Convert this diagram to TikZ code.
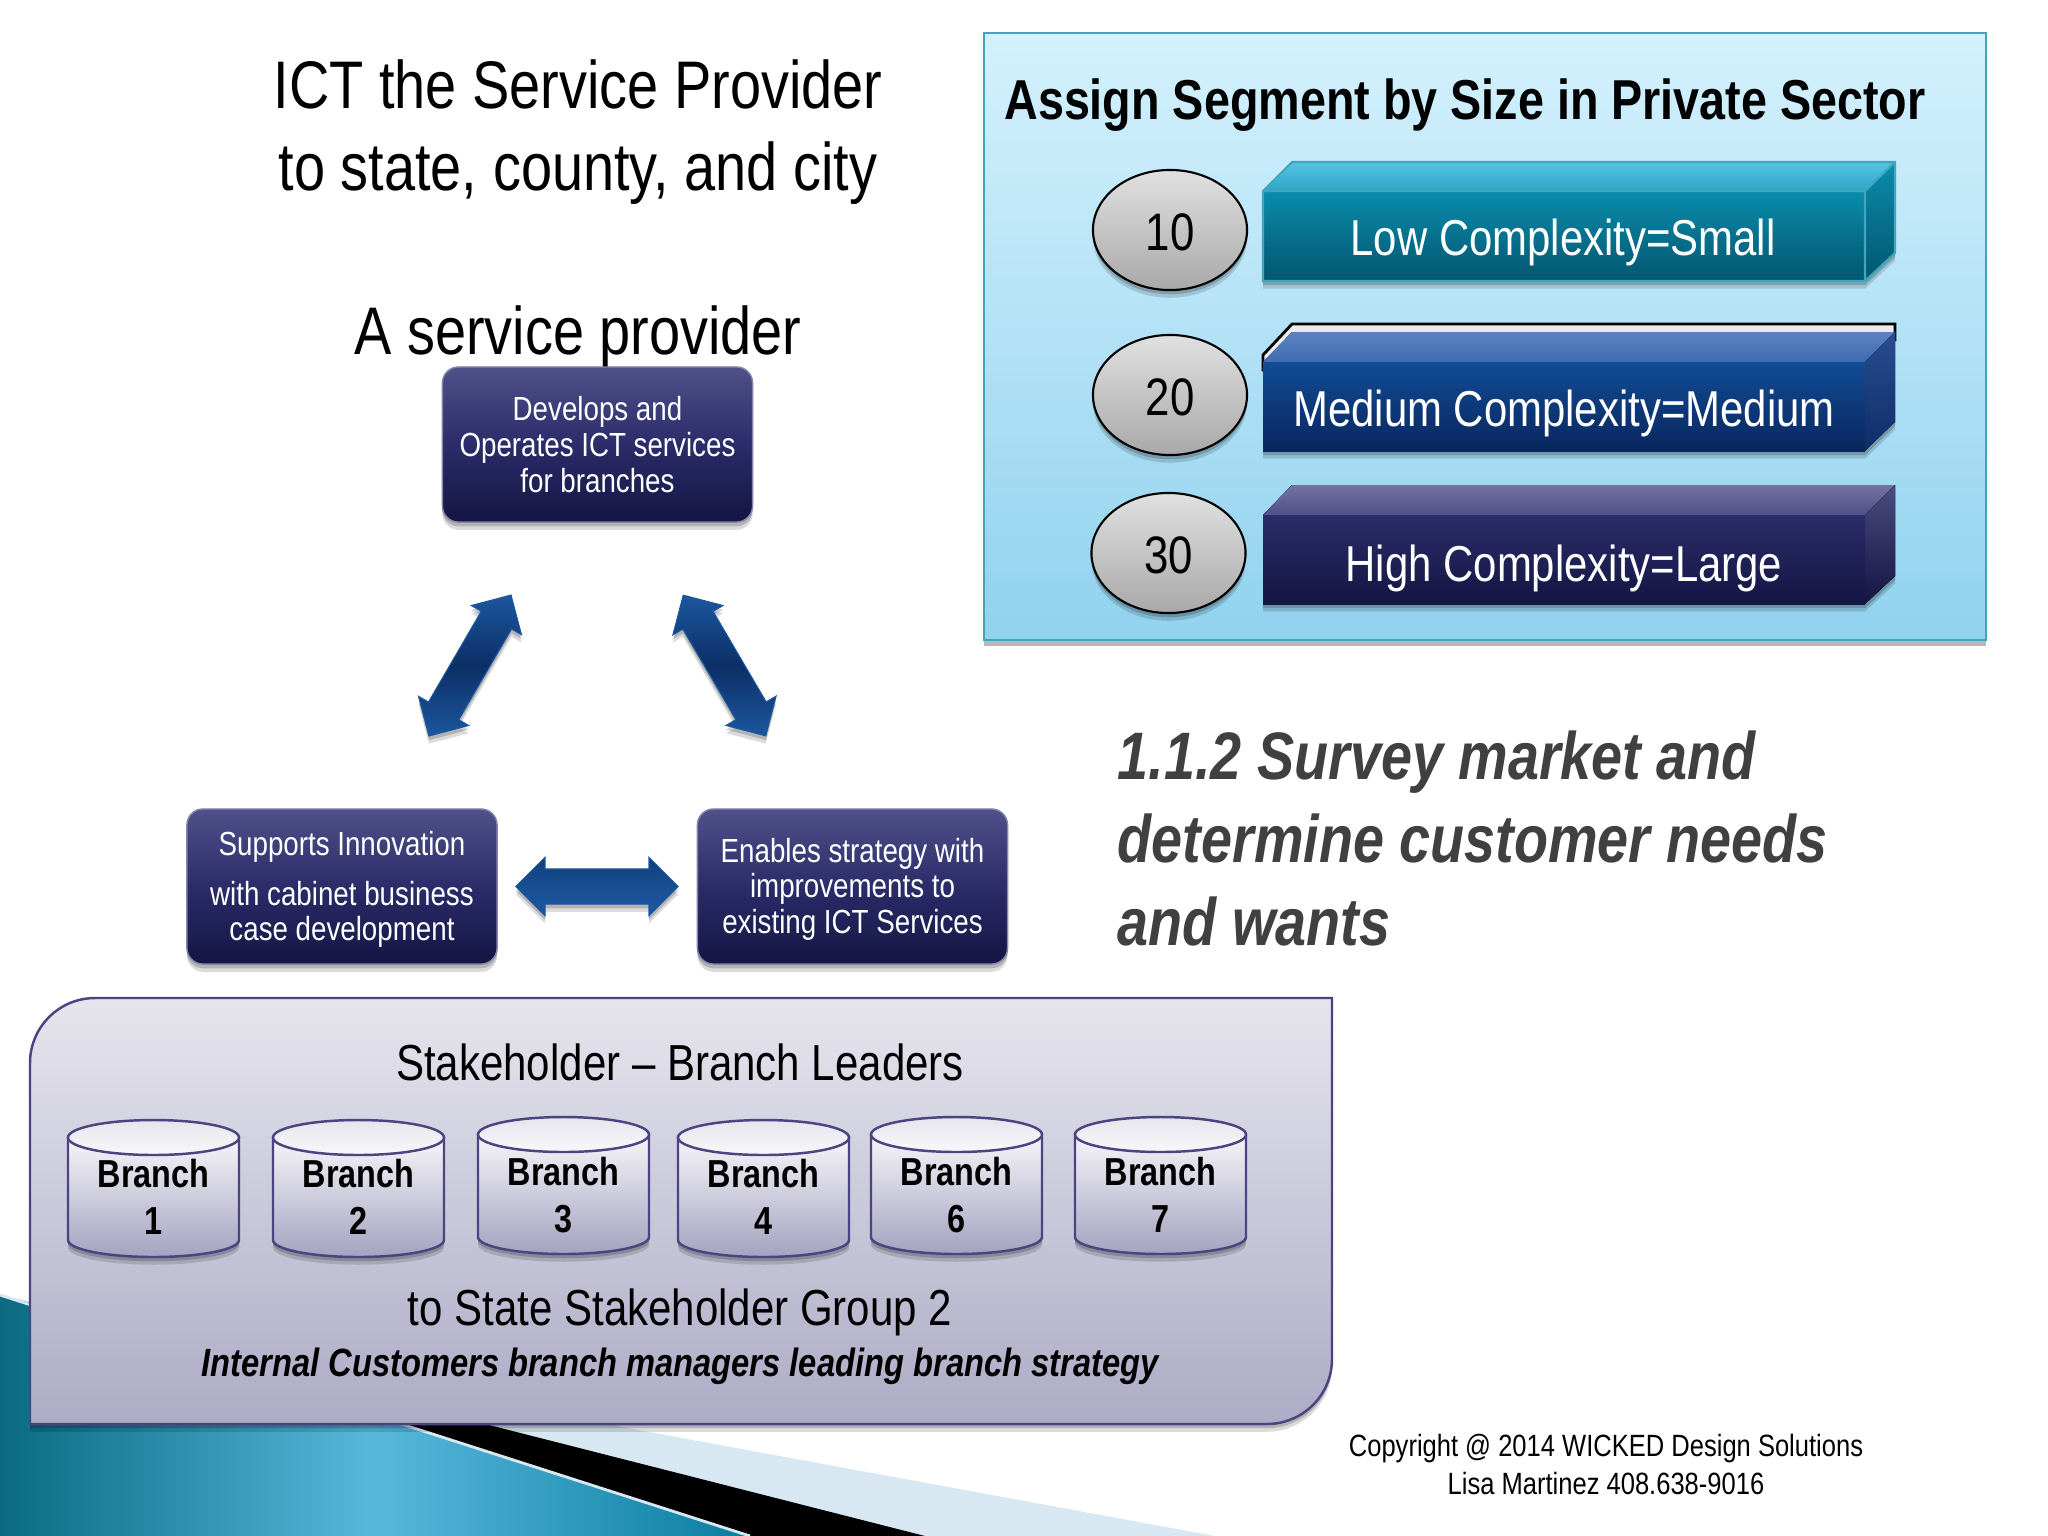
\documentclass[tikz,border=0pt]{standalone}
\usepackage{fontspec}
\setmainfont[FakeStretch=0.83]{Liberation Sans}
\usepackage{tikz}
\usetikzlibrary{shapes.geometric,shapes.arrows,shadows}
\definecolor{navytop}{HTML}{50508A}
\definecolor{navymid}{HTML}{2B2C69}
\definecolor{navybot}{HTML}{141543}
\definecolor{skytop}{HTML}{D4F1FD}
\definecolor{skybot}{HTML}{91D2EE}
\definecolor{skyline}{HTML}{3FA6BE}
\definecolor{lilac}{HTML}{4A4580}
\definecolor{paleband}{HTML}{D8E8F2}
\definecolor{arrowdark}{HTML}{0C2F66}
\definecolor{arrowlight}{HTML}{1C579F}
\definecolor{tealleft}{HTML}{0B6A82}
\definecolor{tealmid}{HTML}{58B8DC}
\definecolor{tealright}{HTML}{0A7EA0}
\definecolor{lowlid}{HTML}{54C3E1}
\definecolor{lowlidb}{HTML}{2FA5C7}
\definecolor{lowtop}{HTML}{0A8CAC}
\definecolor{lowbot}{HTML}{03566F}
\definecolor{medtop}{HTML}{124C95}
\definecolor{medbot}{HTML}{08265F}
\definecolor{medlid}{HTML}{5C82C2}
\definecolor{medlidb}{HTML}{3F6CB0}
\definecolor{medsidet}{HTML}{2A4D90}
\definecolor{medsideb}{HTML}{0E2D68}
\tikzset{
  softshadow/.style={drop shadow={shadow xshift=0pt,shadow yshift=-1.2pt,opacity=.18,fill=black},
    drop shadow={shadow xshift=0pt,shadow yshift=-2.2pt,opacity=.14,fill=black}},
  txt/.style={inner sep=0pt,align=center},
  navybox/.style={txt,rectangle,rounded corners=0.16cm,minimum width=3.1cm,minimum height=1.55cm,
    draw=navytop!70,top color=navytop,bottom color=navybot,middle color=navymid,text=white,
    font=\fontsize{9.5}{10.2}\selectfont,softshadow},
  blockarrow/.style={double arrow,double arrow head extend=0.115cm,inner xsep=0pt,inner ysep=0.17cm,
    minimum height=1.63cm,draw=arrowlight,line width=0.3pt,top color=arrowlight,bottom color=arrowlight,
    middle color=arrowdark,softshadow},
  seat/.style={txt,ellipse,minimum width=1.54cm,minimum height=1.2cm,text height=0.42cm,draw=black,line width=0.6pt,
    top color=black!12,bottom color=black!34,font=\fontsize{15}{16}\selectfont,softshadow},
  blocklabel/.style={txt,text=white,font=\fontsize{14.35}{16}\selectfont},
  cylbody/.style={draw=lilac,line width=0.7pt,top color=lilac!5,bottom color=lilac!50,softshadow},
  cyltop/.style={draw=lilac,line width=0.7pt,top color=lilac!14,bottom color=lilac!4},
  branchlabel/.style={txt,font=\fontsize{11.1}{13.4}\selectfont\bfseries},
}
\begin{document}
\begin{tikzpicture}[x=0.01cm,y=-0.01cm]
\useasboundingbox (0,0) rectangle (2048,1536);
\fill[white] (0,0) rectangle (2048,1536);
\fill[paleband] (0,1295) -- (622,1427) -- (1215,1536) -- (0,1536) -- cycle;
\fill[black] (0,1295) -- (489,1425) -- (925,1536) -- (0,1536) -- cycle;
\shade[left color=tealleft,right color=tealright,middle color=tealmid]
  (0,1295) -- (750,1536) -- (0,1536) -- cycle;
\draw[paleband,line width=0.8pt] (0,1295) -- (750,1536);
\draw[line width=0.7pt,draw=lilac,top color=lilac!14,bottom color=lilac!45,softshadow]
  (30,1424) [rounded corners=0.65cm] -- (30,998) [sharp corners] -- (1332,998)
  [rounded corners=0.65cm] -- (1332,1424) [sharp corners] -- cycle;
\node[txt,font=\fontsize{19.15}{23.3}\selectfont] (title) at (578,132) {ICT the Service Provider\\to state, county, and city};
\node[txt,font=\fontsize{19.15}{22}\selectfont] (provider) at (578,337) {A service provider};
\node[navybox] (develops) at (597.5,444.5) {Develops and\\Operates ICT services\\for branches};
\node[navybox] (supports) at (342,886.5) {\rule{0pt}{8.5pt}Supports Innovation\\[4pt]with cabinet business\\case development};
\node[navybox] (enables) at (852.5,886.5) {\rule{0pt}{8.5pt}Enables strategy with\\improvements to\\existing ICT Services};
\node[blockarrow,rotate=59.8] (arrowleft) at (470,665.5) {};
\node[blockarrow,rotate=-59.6] (arrowright) at (724.5,665.5) {};
\node[blockarrow,minimum height=1.62cm,top color=arrowdark!65!arrowlight,bottom color=arrowlight,middle color=arrowlight!80!arrowdark] (arrowbottom) at (597,886.5) {};
\draw[line width=0.8pt,draw=skyline,top color=skytop,bottom color=skybot,
  drop shadow={shadow xshift=0pt,shadow yshift=-1.8pt,opacity=.28,fill=black}] (984,33) rectangle (1986,640);
\node[txt,font=\fontsize{16}{18}\selectfont\bfseries] (segment) at (1465,105) {Assign Segment by Size in Private Sector};
\node[seat] (ten) at (1170,230) {10};
\node[seat] (twenty) at (1170,395) {20};
\node[seat] (thirty) at (1168.5,553) {30};
% low
\fill[black!25,softshadow] (1263,191) -- (1292,162) -- (1895,162) -- (1895,253) -- (1865,281) -- (1263,281) -- cycle;
\fill[top color=lowlid,bottom color=lowlidb] (1263,191) -- (1292,162) -- (1895,162) -- (1865,191) -- cycle;
\fill[top color=lowtop,bottom color=lowbot] (1865,191) -- (1895,162) -- (1895,253) -- (1865,281) -- cycle;
\fill[top color=lowtop,bottom color=lowbot] (1263,191) rectangle (1865,281);
\draw[skyline,line width=0.6pt] (1263,191) -- (1292,162) -- (1895,162) -- (1895,253) -- (1865,281) -- (1263,281) -- cycle;
\draw[skyline,line width=0.6pt] (1263,191) -- (1865,191) -- (1895,162) (1865,191) -- (1865,281);
\node[blocklabel] (low) at (1563,242) {Low Complexity=Small};
% medium
\draw[draw=black,line width=0.8pt,fill=black!8] (1263,355) -- (1292,324) -- (1895,324) -- (1895,340) -- (1263,370) -- cycle;
\fill[black!25,softshadow] (1263,362) -- (1292,332) -- (1895,332) -- (1895,422) -- (1865,451) -- (1263,451) -- cycle;
\fill[top color=medlid,bottom color=medlidb] (1263,362) -- (1292,332) -- (1895,332) -- (1865,362) -- cycle;
\fill[top color=medsidet,bottom color=medsideb] (1865,362) -- (1895,332) -- (1895,422) -- (1865,451) -- cycle;
\fill[top color=medtop,bottom color=medbot] (1263,362) rectangle (1865,451);
\node[blocklabel] (medium) at (1564,413) {Medium Complexity=Medium};
% high
\fill[navybot,softshadow] (1263,515) -- (1292,485) -- (1895,485) -- (1895,576) -- (1865,604) -- (1263,604) -- cycle;
\fill[top color=navytop!80!white,bottom color=navytop] (1263,515) -- (1292,485) -- (1895,485) -- (1865,515) -- cycle;
\fill[top color=navymid!85!white,bottom color=navybot] (1865,515) -- (1895,485) -- (1895,576) -- (1865,604) -- cycle;
\fill[top color=navymid,bottom color=navybot] (1263,515) rectangle (1865,604);
\node[blocklabel] (high) at (1564,568) {High Complexity=Large};
\node[txt,align=left,anchor=west,text=black!75,font=\fontsize{19.1}{23.6}\selectfont\bfseries\itshape] (survey) at (1117,838.5) {1.1.2 Survey market and\\determine customer needs\\and wants};
\node[txt,font=\fontsize{14.4}{16}\selectfont] (leaders) at (680,1062) {Stakeholder -- Branch Leaders};
\draw[cylbody] (68,1137.5) -- (68,1240) arc (180:0:85.5 and 17) -- (239,1137.5) -- cycle;
\draw[cyltop] (153.5,1137.5) ellipse (85.5 and 17.5);
\node[branchlabel] (branchone) at (153.5,1197) {Branch\\1};
\draw[cylbody] (273,1137.5) -- (273,1240) arc (180:0:85.5 and 17) -- (444,1137.5) -- cycle;
\draw[cyltop] (358.5,1137.5) ellipse (85.5 and 17.5);
\node[branchlabel] (branchtwo) at (358.5,1197) {Branch\\2};
\draw[cylbody] (478,1134.5) -- (478,1237) arc (180:0:85.5 and 17) -- (649,1134.5) -- cycle;
\draw[cyltop] (563.5,1134.5) ellipse (85.5 and 17.5);
\node[branchlabel] (branchthree) at (563.5,1195) {Branch\\3};
\draw[cylbody] (678,1137.5) -- (678,1240) arc (180:0:85.5 and 17) -- (849,1137.5) -- cycle;
\draw[cyltop] (763.5,1137.5) ellipse (85.5 and 17.5);
\node[branchlabel] (branchfour) at (763.5,1197) {Branch\\4};
\draw[cylbody] (871,1134.5) -- (871,1237) arc (180:0:85.5 and 17) -- (1042,1134.5) -- cycle;
\draw[cyltop] (956.5,1134.5) ellipse (85.5 and 17.5);
\node[branchlabel] (branchsix) at (956.5,1195) {Branch\\6};
\draw[cylbody] (1075,1134.5) -- (1075,1237) arc (180:0:85.5 and 17) -- (1246,1134.5) -- cycle;
\draw[cyltop] (1160.5,1134.5) ellipse (85.5 and 17.5);
\node[branchlabel] (branchseven) at (1160.5,1195) {Branch\\7};
\node[txt,font=\fontsize{14.4}{16}\selectfont] (group) at (680,1312) {to State Stakeholder Group 2};
\node[txt,font=\fontsize{11.2}{13}\selectfont\bfseries\itshape] (customers) at (680,1366) {Internal Customers branch managers leading branch strategy};
\node[txt,font=\fontsize{8.75}{10.8}\selectfont] (copyright) at (1606,1464) {Copyright @ 2014 WICKED Design Solutions\\Lisa Martinez 408.638-9016};
\end{tikzpicture}
\end{document}
